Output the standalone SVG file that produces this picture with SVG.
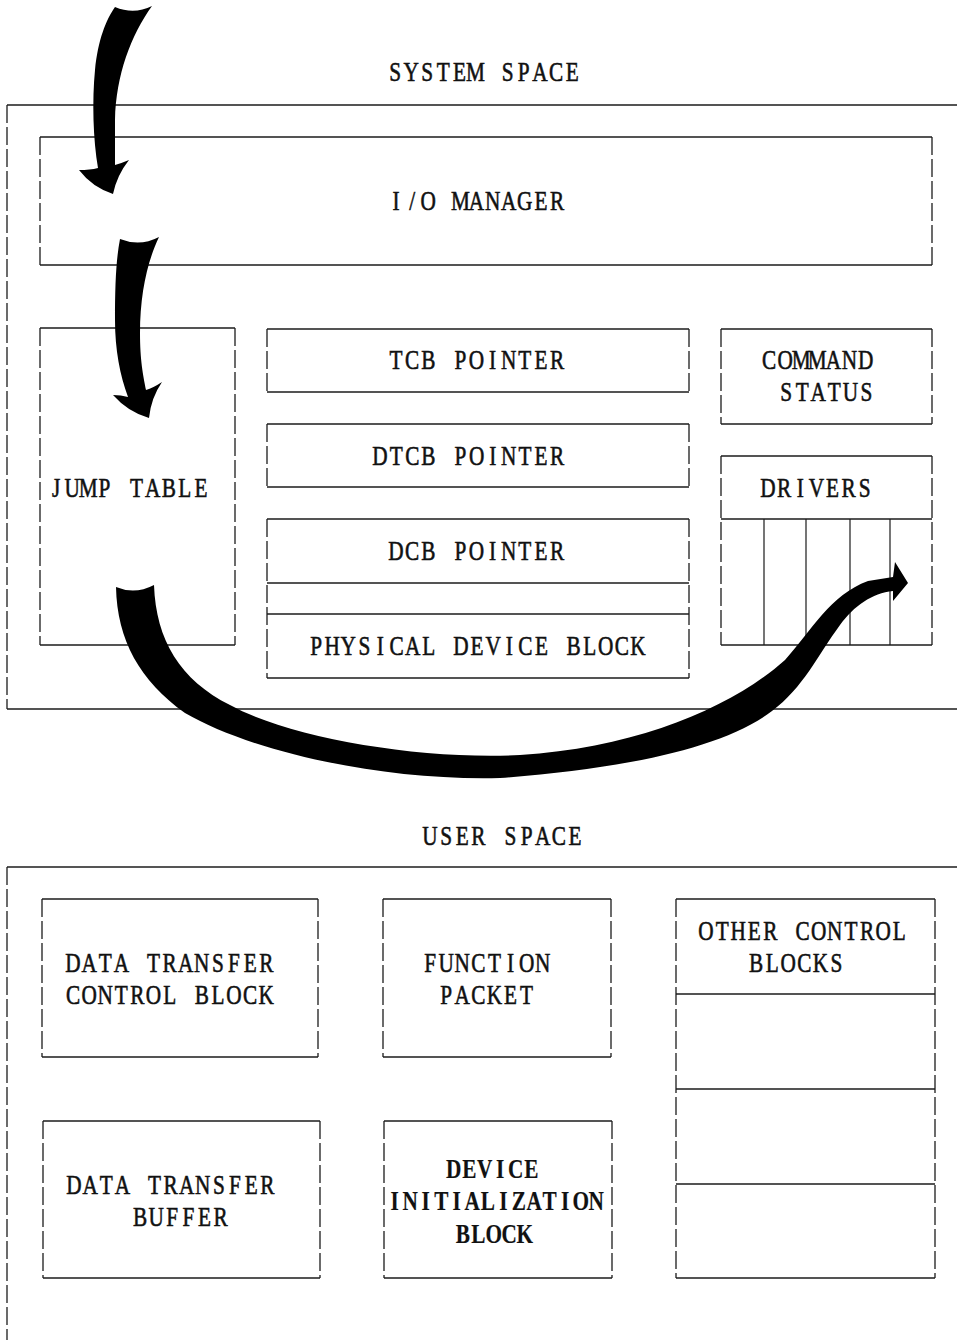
<svg xmlns="http://www.w3.org/2000/svg" width="957" height="1340" viewBox="0 0 957 1340">
  <style>
    .h { fill: none; stroke: #1c1c1c; stroke-width: 1.4; }
    .v { fill: none; stroke: #1c1c1c; stroke-width: 1.3; stroke-dasharray: 18 4; }
    /* typewriter-style labels: every glyph is centred in a fixed-pitch cell */
    .t { font-family: "Liberation Serif", "Times New Roman", serif; font-size: 28px; fill: #111; stroke: #111; stroke-width: 0.6; text-anchor: middle; }
    .b { font-weight: bold; stroke-width: 0.2; }
    .arrow { fill: #000; stroke: none; }
  </style>
  <rect width="957" height="1340" fill="#fff"/>

  <!-- system space frame -->
  <g id="system-space">
    <path class="h" d="M7,105 H957 M7,709 H957"/>
    <path class="v" d="M7,105 V709"/>
    <text class="t" transform="translate(387,81) scale(0.76,1)" x="10.6 31.8 53.0 74.1 95.3 116.5 137.7 158.9 180.0 201.2 222.4 243.6" y="0">SYSTEM SPACE</text>
  </g>

  <g id="io-manager">
    <path class="h" d="M40,137 H932 M40,265 H932"/>
    <path class="v" d="M40,137 V265 M932,137 V265"/>
    <text class="t" transform="translate(388,210) scale(0.76,1)" x="10.6 31.8 53.0 74.1 95.3 116.5 137.7 158.9 180.0 201.2 222.4" y="0">I/O MANAGER</text>
  </g>

  <g id="jump-table">
    <path class="h" d="M40,328 H235 M40,645 H235"/>
    <path class="v" d="M40,328 V645 M235,328 V645"/>
    <text class="t" transform="translate(48,497) scale(0.76,1)" x="10.6 31.8 53.0 74.1 95.3 116.5 137.7 158.9 180.0 201.2" y="0">JUMP TABLE</text>
  </g>

  <g id="tcb-pointer">
    <path class="h" d="M267,329 H689 M267,392 H689"/>
    <path class="v" d="M267,329 V392 M689,329 V392"/>
    <text class="t" transform="translate(388,369) scale(0.76,1)" x="10.6 31.8 53.0 74.1 95.3 116.5 137.7 158.9 180.0 201.2 222.4" y="0">TCB POINTER</text>
  </g>

  <g id="dtcb-pointer">
    <path class="h" d="M267,424 H689 M267,487 H689"/>
    <path class="v" d="M267,424 V487 M689,424 V487"/>
    <text class="t" transform="translate(372,465) scale(0.76,1)" x="10.6 31.8 53.0 74.1 95.3 116.5 137.7 158.9 180.0 201.2 222.4 243.6" y="0">DTCB POINTER</text>
  </g>

  <g id="dcb-pointer">
    <path class="h" d="M267,519 H689 M267,583 H689 M267,614 H689 M267,678 H689"/>
    <path class="v" d="M267,519 V678 M689,519 V678"/>
    <text class="t" transform="translate(388,560) scale(0.76,1)" x="10.6 31.8 53.0 74.1 95.3 116.5 137.7 158.9 180.0 201.2 222.4" y="0">DCB POINTER</text>
    <text class="t" transform="translate(308,655) scale(0.76,1)" x="10.6 31.8 53.0 74.1 95.3 116.5 137.7 158.9 180.0 201.2 222.4 243.6 264.8 285.9 307.1 328.3 349.5 370.7 391.8 413.0 434.2" y="0">PHYSICAL DEVICE BLOCK</text>
  </g>

  <g id="command-status">
    <path class="h" d="M721,329 H932 M721,424 H932"/>
    <path class="v" d="M721,329 V424 M932,329 V424"/>
    <text class="t" transform="translate(761,369) scale(0.76,1)" x="10.6 31.8 53.0 74.1 95.3 116.5 137.7" y="0">COMMAND</text>
    <text class="t" transform="translate(778,401) scale(0.76,1)" x="10.6 31.8 53.0 74.1 95.3 116.5" y="0">STATUS</text>
  </g>

  <g id="drivers">
    <path class="h" d="M721,456 H932 M721,519 H932 M721,645 H932"/>
    <path class="v" d="M721,456 V645 M932,456 V645"/>
    <path class="h" d="M764,519 V645 M806,519 V645 M850,519 V645 M890,519 V645" style="stroke-width:1.2"/>
    <text class="t" transform="translate(760,497) scale(0.76,1)" x="10.6 31.8 53.0 74.1 95.3 116.5 137.7" y="0">DRIVERS</text>
  </g>

  <!-- user space frame -->
  <g id="user-space">
    <path class="h" d="M7,867 H957"/>
    <path class="v" d="M7,867 V1340"/>
    <text class="t" transform="translate(422,845) scale(0.76,1)" x="10.6 31.8 53.0 74.1 95.3 116.5 137.7 158.9 180.0 201.2" y="0">USER SPACE</text>
  </g>

  <g id="data-transfer-control-block">
    <path class="h" d="M42,899 H318 M42,1057 H318"/>
    <path class="v" d="M42,899 V1057 M318,899 V1057"/>
    <text class="t" transform="translate(65,972) scale(0.76,1)" x="10.6 31.8 53.0 74.1 95.3 116.5 137.7 158.9 180.0 201.2 222.4 243.6 264.8" y="0">DATA TRANSFER</text>
    <text class="t" transform="translate(65,1004) scale(0.76,1)" x="10.6 31.8 53.0 74.1 95.3 116.5 137.7 158.9 180.0 201.2 222.4 243.6 264.8" y="0">CONTROL BLOCK</text>
  </g>

  <g id="function-packet">
    <path class="h" d="M383,899 H611 M383,1057 H611"/>
    <path class="v" d="M383,899 V1057 M611,899 V1057"/>
    <text class="t" transform="translate(422,972) scale(0.76,1)" x="10.6 31.8 53.0 74.1 95.3 116.5 137.7 158.9" y="0">FUNCTION</text>
    <text class="t" transform="translate(438,1004) scale(0.76,1)" x="10.6 31.8 53.0 74.1 95.3 116.5" y="0">PACKET</text>
  </g>

  <g id="other-control-blocks">
    <path class="h" d="M676,899 H935 M676,994 H935 M676,1089 H935 M676,1184 H935 M676,1278 H935"/>
    <path class="v" d="M676,899 V1278 M935,899 V1278"/>
    <text class="t" transform="translate(698,940) scale(0.76,1)" x="10.6 31.8 53.0 74.1 95.3 116.5 137.7 158.9 180.0 201.2 222.4 243.6 264.8" y="0">OTHER CONTROL</text>
    <text class="t" transform="translate(748,972) scale(0.76,1)" x="10.6 31.8 53.0 74.1 95.3 116.5" y="0">BLOCKS</text>
  </g>

  <g id="data-transfer-buffer">
    <path class="h" d="M43,1121 H320 M43,1278 H320"/>
    <path class="v" d="M43,1121 V1278 M320,1121 V1278"/>
    <text class="t" transform="translate(66,1194) scale(0.76,1)" x="10.6 31.8 53.0 74.1 95.3 116.5 137.7 158.9 180.0 201.2 222.4 243.6 264.8" y="0">DATA TRANSFER</text>
    <text class="t" transform="translate(132,1226) scale(0.76,1)" x="10.6 31.8 53.0 74.1 95.3 116.5" y="0">BUFFER</text>
  </g>

  <g id="device-initialization-block">
    <path class="h" d="M384,1121 H612 M384,1278 H612"/>
    <path class="v" d="M384,1121 V1278 M612,1121 V1278"/>
    <text class="t b" transform="translate(446,1178) scale(0.76,1)" x="10.2 30.6 51.0 71.4 91.8 112.2" y="0">DEVICE</text>
    <text class="t b" transform="translate(387,1210) scale(0.76,1)" x="10.2 30.6 51.0 71.4 91.8 112.2 132.6 153.0 173.4 193.7 214.1 234.5 254.9 275.3" y="0">INITIALIZATION</text>
    <text class="t b" transform="translate(455,1243) scale(0.76,1)" x="10.2 30.6 51.0 71.4 91.8" y="0">BLOCK</text>
  </g>

  <!-- flow arrows -->
  <g id="connectors">
    <path class="arrow" d="M115,7 Q134,15 152,6 C131,35 116,75 115,120 L115,165 Q122,163 129,160 Q117,175 113,194 Q92,187 79,170 Q90,170 98,168 C93,140 92,100 95,70 C98,40 106,20 115,7 Z"/>
    <path class="arrow" d="M120,239 Q140,247 159,237 C147,262 140,295 140,333 C140,360 143,375 146,390 Q153,388 162,382 Q151,398 149,418 Q128,412 113,395 Q121,395 128,397 C120,375 115,350 115,320 C115,285 116,260 120,239 Z"/>
    <path class="arrow" d="M116,587 Q135,595 154,585 C156,640 180,680 230,705 C290,738 420,760 520,755 C640,748 735,705 785,660 C812,630 830,595 868,581 L893,577 L895,562 L908,583 L893,601 L893,591 C872,593 854,606 840,625 C818,655 803,688 772,711 C722,749 620,769 500,778 C380,781 250,751 185,713 C140,681 117,640 116,587 Z"/>
  </g>
</svg>
